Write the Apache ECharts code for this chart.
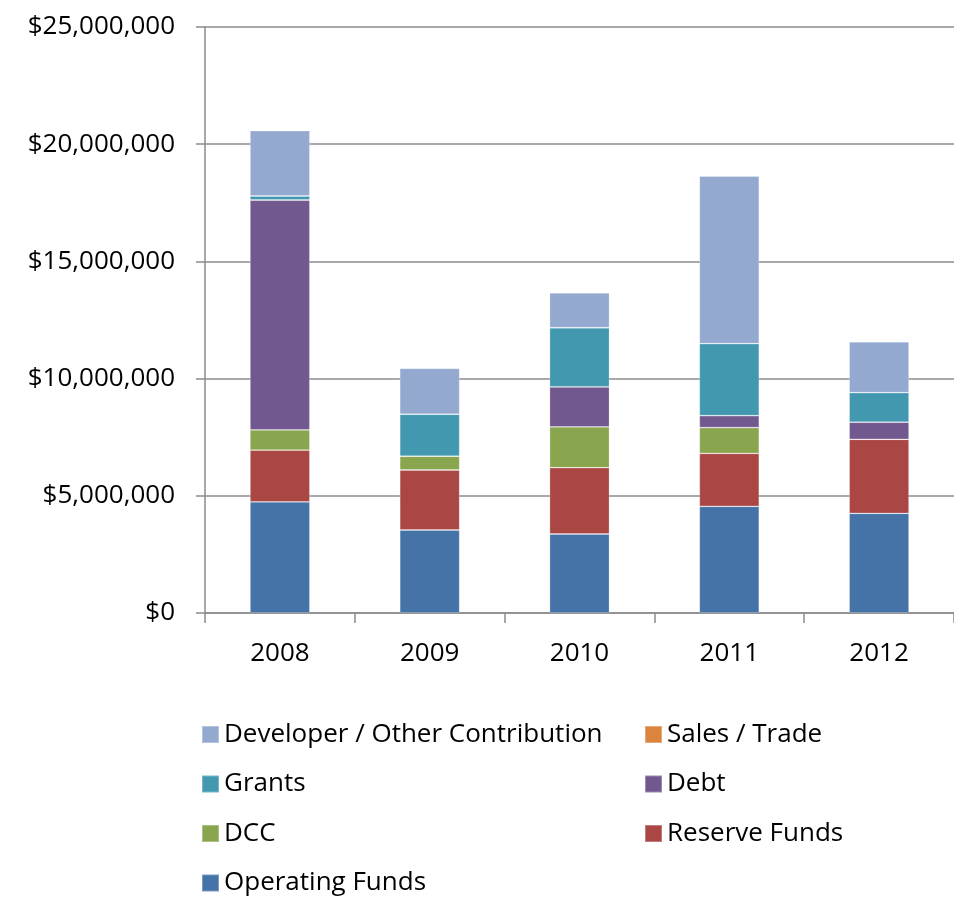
<!DOCTYPE html>
<html>
<head>
<meta charset="utf-8">
<script src="https://cdn.jsdelivr.net/npm/echarts@6/dist/echarts.min.js"></script>
<style>
  html, body { margin: 0; padding: 0; background: #fff; }
  #chart { width: 954px; height: 897px; }
</style>
</head>
<body>
<div id="chart"></div>
<script>
// Capital funding sources by year (dollars, in millions)
const years = ['2008', '2009', '2010', '2011', '2012'];
const operatingFunds = [4.74, 3.54, 3.37, 4.55, 4.25];
const reserveFunds   = [2.21, 2.56, 2.83, 2.26, 3.16];
const dcc            = [0.86, 0.59, 1.74, 1.10, 0];
const debt           = [9.81, 0, 1.71, 0.51, 0.73];
const salesTrade     = [0, 0, 0, 0, 0];
const grants         = [0.17, 1.79, 2.52, 3.07, 1.26];
const developer      = [2.79, 1.96, 1.49, 7.15, 2.17];
const yTicks = [0, 5000000, 10000000, 15000000, 20000000, 25000000];

const FONT = '"Open Sans", "Noto Sans", sans-serif';
const AXIS_GRAY = '#8c8c8c';
const FONT_SIZE = 26;

function toDollars(arr) { return arr.map(v => Math.round(v * 1000000)); }

const seriesDefs = [
  { name: 'Operating Funds', data: operatingFunds, color: '#4572A7' },
  { name: 'Reserve Funds', data: reserveFunds, color: '#AA4643' },
  { name: 'DCC', data: dcc, color: '#89A54E' },
  { name: 'Debt', data: debt, color: '#71588F' },
  { name: 'Sales / Trade', data: salesTrade, color: '#DB843D' },
  { name: 'Grants', data: grants, color: '#4198AF' },
  { name: 'Developer / Other Contribution', data: developer, color: '#93A9CF' }
];

function fmtDollar(v) {
  return '$' + Math.round(v).toString().replace(/\B(?=(\d{3})+(?!\d))/g, ',');
}

const legendText = { fontFamily: FONT, fontSize: FONT_SIZE, color: '#000', lineHeight: 26 };
const legendCommon = {
  orient: 'vertical',
  icon: 'rect',
  itemWidth: 17,
  itemHeight: 17,
  itemGap: 23.5,
  selectedMode: false,
  textStyle: legendText,
  padding: 0
};

const chart = echarts.init(document.getElementById('chart'), null, { renderer: 'canvas' });
chart.setOption({
  animation: false,
  backgroundColor: '#fff',
  grid: { left: 205, right: 0, top: 27, bottom: 284, containLabel: false },
  legend: [
    Object.assign({}, legendCommon, {
      left: 201, top: 721.5,
      data: ['Developer / Other Contribution', 'Grants', 'DCC', 'Operating Funds']
    }),
    Object.assign({}, legendCommon, {
      left: 644, top: 721.5,
      data: ['Sales / Trade', 'Debt', 'Reserve Funds']
    })
  ],
  xAxis: {
    type: 'category',
    data: years,
    boundaryGap: true,
    axisLine: { lineStyle: { color: AXIS_GRAY, width: 1.5 } },
    axisTick: { show: true, length: 10, lineStyle: { color: AXIS_GRAY, width: 1.5 } },
    axisLabel: { fontFamily: FONT, fontSize: FONT_SIZE, color: '#000', margin: 28 }
  },
  yAxis: {
    type: 'value',
    min: yTicks[0],
    max: yTicks[yTicks.length - 1],
    interval: yTicks[1] - yTicks[0],
    axisLine: { show: true, lineStyle: { color: AXIS_GRAY, width: 1.5 } },
    axisTick: { show: true, length: 9, lineStyle: { color: AXIS_GRAY, width: 1.5 } },
    splitLine: { show: true, lineStyle: { color: AXIS_GRAY, width: 1.5 } },
    axisLabel: {
      fontFamily: FONT, fontSize: FONT_SIZE, color: '#000', margin: 30,
      formatter: fmtDollar
    }
  },
  series: seriesDefs.map(s => ({
    name: s.name,
    type: 'bar',
    stack: 'total',
    barWidth: '40%',
    data: toDollars(s.data),
    itemStyle: { color: s.color, borderColor: 'rgba(255,255,255,0.3)', borderWidth: 0.8 }
  }))
});
</script>
</body>
</html>
